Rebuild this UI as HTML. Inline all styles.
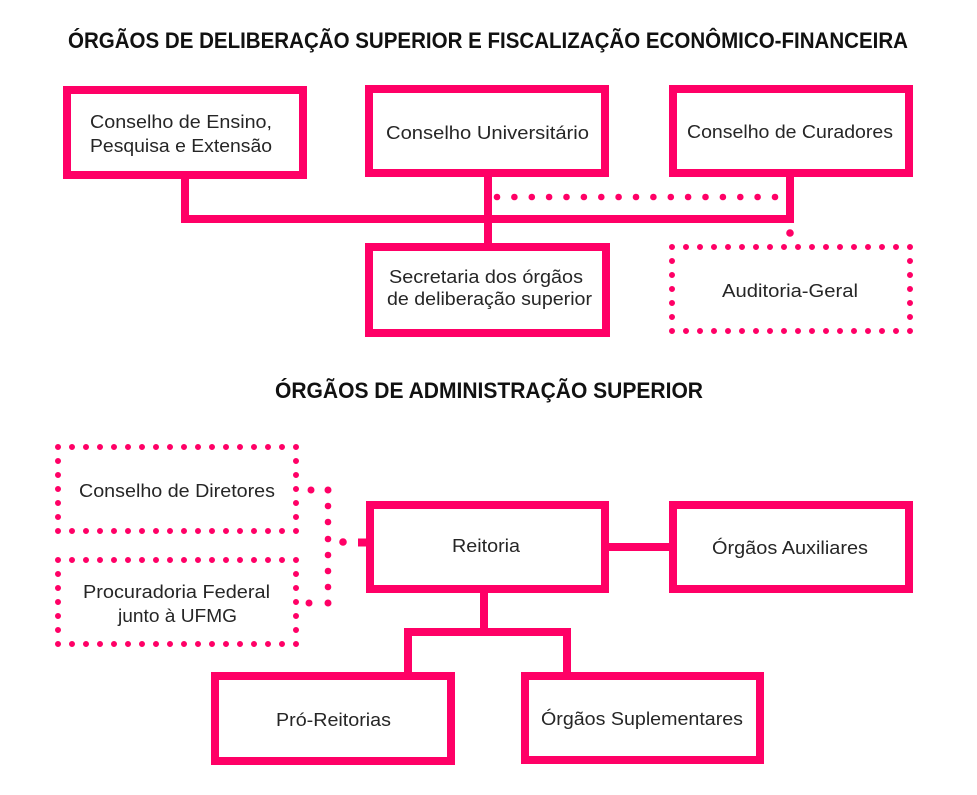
<!DOCTYPE html>
<html>
<head>
<meta charset="utf-8">
<style>
  html, body { margin:0; padding:0; background:#ffffff; }
  svg { display:block; }
  .t { font-family: "Liberation Sans", "DejaVu Sans", sans-serif; font-size:18.5px; fill:#262626; }
  .h { font-family: "Liberation Sans", "DejaVu Sans", sans-serif; font-size:22px; font-weight:bold; fill:#111; }
</style>
</head>
<body>
<svg width="977" height="795" viewBox="0 0 977 795" xmlns="http://www.w3.org/2000/svg">
  <rect x="0" y="0" width="977" height="795" fill="#ffffff"/>

  <!-- Titles -->
  <text class="h" x="68" y="48" textLength="840" lengthAdjust="spacingAndGlyphs">ÓRGÃOS DE DELIBERAÇÃO SUPERIOR E FISCALIZAÇÃO ECONÔMICO-FINANCEIRA</text>
  <text class="h" x="275" y="398" textLength="428" lengthAdjust="spacingAndGlyphs">ÓRGÃOS DE ADMINISTRAÇÃO SUPERIOR</text>

  <g fill="none" stroke="#ff0066" stroke-width="8" stroke-linejoin="miter" stroke-linecap="butt">
    <!-- Top solid boxes -->
    <rect x="67" y="90" width="236" height="85"/>
    <rect x="369" y="89" width="236" height="84"/>
    <rect x="673" y="89" width="236" height="84"/>
    <rect x="369" y="247" width="237" height="86"/>
    <!-- Top connectors -->
    <path d="M185,179 V219 H790 V177"/>
    <path d="M488,177 V243"/>

    <!-- Bottom solid boxes -->
    <rect x="370" y="505" width="235" height="84"/>
    <rect x="673" y="505" width="236" height="84"/>
    <rect x="215" y="676" width="236" height="85"/>
    <rect x="525" y="676" width="235" height="84"/>
    <!-- Bottom connectors -->
    <path d="M609,547 H669"/>
    <path d="M484,593 V632"/>
    <path d="M408,672 V632 H567 V672"/>
  </g>

  <!-- Dotted boxes -->
  <g fill="none" stroke="#ff0066" stroke-width="6" stroke-linecap="round" stroke-dasharray="0 14">
    <rect x="672" y="247" width="238" height="84"/>
    <rect x="58" y="447" width="238" height="84"/>
    <rect x="58" y="560" width="238" height="84"/>
  </g>

  <!-- Dotted connector (top) -->
  <g fill="#ff0066">
    <circle cx="497" cy="197" r="3.3"/>
    <circle cx="514.4" cy="197" r="3.3"/>
    <circle cx="531.8" cy="197" r="3.3"/>
    <circle cx="549.1" cy="197" r="3.3"/>
    <circle cx="566.5" cy="197" r="3.3"/>
    <circle cx="583.9" cy="197" r="3.3"/>
    <circle cx="601.3" cy="197" r="3.3"/>
    <circle cx="618.6" cy="197" r="3.3"/>
    <circle cx="636" cy="197" r="3.3"/>
    <circle cx="653.4" cy="197" r="3.3"/>
    <circle cx="670.8" cy="197" r="3.3"/>
    <circle cx="688.1" cy="197" r="3.3"/>
    <circle cx="705.5" cy="197" r="3.3"/>
    <circle cx="722.9" cy="197" r="3.3"/>
    <circle cx="740.3" cy="197" r="3.3"/>
    <circle cx="757.6" cy="197" r="3.3"/>
    <circle cx="775" cy="197" r="3.3"/>
    <circle cx="790" cy="233" r="3.8"/>

    <!-- Dotted bracket (bottom left) -->
    <circle cx="311" cy="490" r="3.5"/>
    <circle cx="328" cy="490" r="3.5"/>
    <circle cx="328" cy="506" r="3.3"/>
    <circle cx="328" cy="522" r="3.3"/>
    <circle cx="328" cy="539" r="3.3"/>
    <circle cx="328" cy="555" r="3.3"/>
    <circle cx="328" cy="571" r="3.3"/>
    <circle cx="328" cy="587" r="3.3"/>
    <circle cx="328" cy="603" r="3.5"/>
    <circle cx="309" cy="603" r="3.5"/>
    <circle cx="343" cy="542" r="3.8"/>
    <rect x="358" y="538.5" width="9" height="8"/>
  </g>

  <!-- Top labels -->
  <text class="t" x="90" y="128" textLength="182" lengthAdjust="spacingAndGlyphs">Conselho de Ensino,</text>
  <text class="t" x="90" y="152" textLength="182" lengthAdjust="spacingAndGlyphs">Pesquisa e Extensão</text>
  <text class="t" x="386" y="139" textLength="203" lengthAdjust="spacingAndGlyphs">Conselho Universitário</text>
  <text class="t" x="687" y="138" textLength="206" lengthAdjust="spacingAndGlyphs">Conselho de Curadores</text>
  <text class="t" x="389" y="283" textLength="194" lengthAdjust="spacingAndGlyphs">Secretaria dos órgãos</text>
  <text class="t" x="387" y="305" textLength="205" lengthAdjust="spacingAndGlyphs">de deliberação superior</text>
  <text class="t" x="722" y="297" textLength="136" lengthAdjust="spacingAndGlyphs">Auditoria-Geral</text>

  <!-- Bottom labels -->
  <text class="t" x="79" y="497" textLength="196" lengthAdjust="spacingAndGlyphs">Conselho de Diretores</text>
  <text class="t" x="83" y="598" textLength="187" lengthAdjust="spacingAndGlyphs">Procuradoria Federal</text>
  <text class="t" x="118" y="622" textLength="119" lengthAdjust="spacingAndGlyphs">junto à UFMG</text>
  <text class="t" x="452" y="552" textLength="68" lengthAdjust="spacingAndGlyphs">Reitoria</text>
  <text class="t" x="712" y="554" textLength="156" lengthAdjust="spacingAndGlyphs">Órgãos Auxiliares</text>
  <text class="t" x="276" y="726" textLength="115" lengthAdjust="spacingAndGlyphs">Pró-Reitorias</text>
  <text class="t" x="541" y="725" textLength="202" lengthAdjust="spacingAndGlyphs">Órgãos Suplementares</text>
</svg>
</body>
</html>
